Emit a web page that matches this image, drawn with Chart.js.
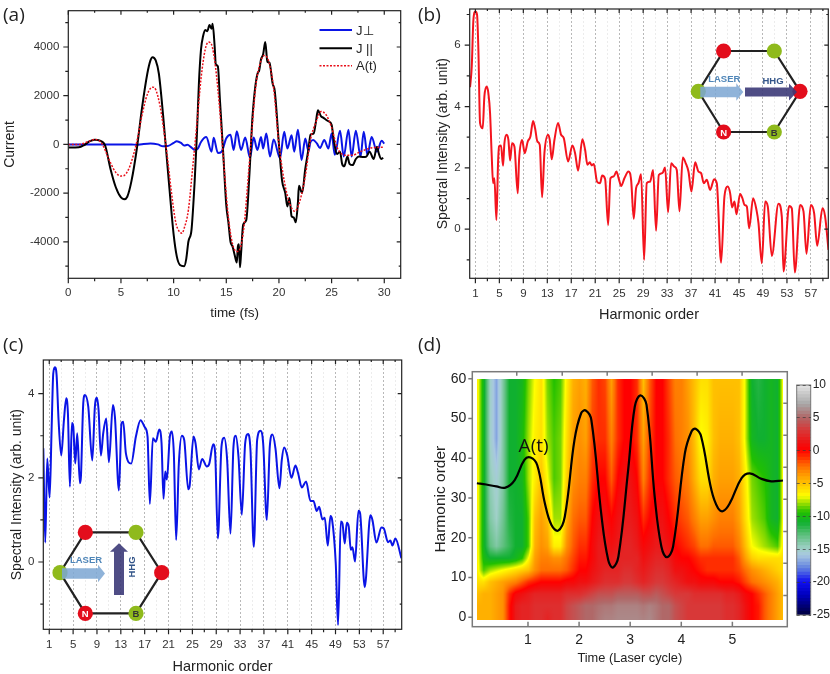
<!DOCTYPE html>
<html lang="en">
<head>
<meta charset="UTF-8">
<title>HHG current and spectra</title>
<script src="https://cdn.jsdelivr.net/npm/chart.js@4"></script>
<style>
  body { margin: 0; background: #fff; }
  #page { position: relative; width: 830px; height: 674px; overflow: hidden; }
  canvas { position: absolute; }
  .tag { position: absolute; font: 19px 'Open Sans', sans-serif; color: #222; }
  svg { position: absolute; left: 0; top: 0; }
</style>
</head>
<body>
<div id="page">
  <canvas id="chartA" style="left:0;top:0" width="415" height="320"></canvas>
  <canvas id="chartB" style="left:415px;top:0" width="415" height="325"></canvas>
  <canvas id="chartC" style="left:0;top:330px" width="415" height="344"></canvas>
  <canvas id="chartD" style="left:415px;top:330px" width="375" height="344"></canvas>
  <canvas id="chartBar" style="left:790px;top:375px" width="40" height="250"></canvas>
  <div class="tag" style="left:3px;top:1px">(a)</div>
  <div class="tag" style="left:418px;top:1px">(b)</div>
  <div class="tag" style="left:3px;top:331px">(c)</div>
  <div class="tag" style="left:418px;top:331px">(d)</div>
  <svg width="830" height="674" font-family="Liberation Sans, sans-serif" font-weight="bold">
    <defs>
      <g id="hexagon">
        <path d="M25.3 -40.3 H76 L101.7 0 L76 40.7 H25.3 L0 0 Z" fill="none" stroke="#222" stroke-width="2.2"/>
        <circle cx="25.3" cy="-40.3" r="7.6" fill="#e30d1c"/>
        <circle cx="76" cy="-40.3" r="7.6" fill="#8fba1c"/>
        <circle cx="101.7" cy="0" r="7.6" fill="#e30d1c"/>
        <circle cx="76" cy="40.7" r="7.6" fill="#8fba1c"/>
        <circle cx="25.3" cy="40.7" r="7.6" fill="#e30d1c"/>
        <circle cx="0" cy="0" r="7.6" fill="#8fba1c"/>
        <text x="25.3" y="44.3" font-size="9.5" fill="#fff" text-anchor="middle">N</text>
        <text x="76" y="44.3" font-size="9.5" fill="#333" text-anchor="middle">B</text>
        <path d="M2 -4.5 H38 V-8 L45 0.8 L38 9.5 V6 H2 Z" fill="#7ba6d2" fill-opacity="0.85"/>
        <text x="26" y="-9.5" font-size="9.5" fill="#4f86b8" text-anchor="middle">LASER</text>
      </g>
    </defs>
    <use href="#hexagon" x="698.3" y="91.3"/>
    <path d="M745 87.5 H789 V83.5 L797 92 L789 100.5 V96.5 H745 Z" fill="#3c3a78" fill-opacity="0.9"/>
    <text x="773" y="84" font-size="9.5" fill="#34568a" text-anchor="middle">HHG</text>
    <use href="#hexagon" x="60" y="572.7"/>
    <path d="M114 595 V551.7 H110 L119 543.3 L128 551.7 H124 V595 Z" fill="#3c3a78" fill-opacity="0.9"/>
    <text transform="translate(134.5 567) rotate(-90)" font-size="9.5" fill="#34568a" text-anchor="middle">HHG</text>
  </svg>
</div>
<script>
// (a) currents
const parTime = [0,1,1.5,2,2.5,3,3.5,4,4.5,5,5.3,5.6,6,6.5,7,7.5,7.8,8,8.3,8.6,9,9.3,9.6,10,10.3,10.6,11,11.2,11.4,11.7,12,12.2,12.4,12.6,12.8,13,13.2,13.4,13.6,13.7,13.9,14,14.2,14.4,14.7,15,15.2,15.4,15.6,15.8,16,16.1,16.2,16.3,16.4,16.6,16.9,17.2,17.5,18,18.1,18.3,18.5,18.7,18.9,19.1,19.4,19.6,20,20.3,20.6,20.8,21,21.2,21.4,21.6,21.8,21.9,22.2,22.5,22.8,23,23.3,23.5,23.7,24,24.2,24.5,24.7,25,25.2,25.5,25.8,26,26.2,26.5,26.7,27,27.3,27.6,28,28.3,28.6,29,29.3,29.5,29.7,29.9];
const parValue = [-130,-120,-30,120,190,150,-50,-1000,-1750,-2180,-2250,-2150,-1500,-200,1500,2900,3450,3580,3450,2900,1200,-300,-1800,-3700,-4600,-4950,-5000,-4700,-4000,-3500,-1500,300,2500,3900,4450,4700,4650,4900,4750,4950,4000,3300,3200,1800,-300,-2500,-3200,-4000,-4200,-4550,-4850,-4200,-4100,-5050,-4500,-3300,-3100,-1200,1200,2950,3000,3500,3700,4200,3400,3350,2500,2200,0,-1500,-2000,-2550,-2200,-2950,-3000,-3200,-2400,-1700,-2000,-1000,-200,400,450,900,1400,1150,1100,1000,950,800,200,-400,-300,-800,-900,-500,-800,-850,-600,-500,-520,-500,-300,-600,-100,-400,-600,-550];
const fieldTime = [0,1,1.5,2,2.5,3,3.3,3.7,4,4.5,5,5.3,5.7,6,6.5,7,7.5,8,8.3,8.7,9,9.4,9.8,10.2,10.5,10.8,11,11.4,11.8,12.2,12.6,13,13.3,13.6,14,14.4,14.8,15.2,15.6,16,16.3,16.7,17,17.4,17.8,18.2,18.6,19,19.5,20,20.5,21,21.5,22,22.5,23,23.5,24,24.5,25,25.5,26,26.5,27,27.5,28,29,30];
const fieldValue = [0,0,50,130,200,130,-50,-450,-750,-1150,-1300,-1280,-1050,-700,100,1200,2050,2350,2250,1600,800,-500,-2000,-3200,-3550,-3650,-3450,-2700,-1000,800,2700,3900,4200,4100,3100,1300,-1000,-3000,-4100,-4400,-4300,-3300,-1800,400,2400,3300,3650,3450,2300,0,-1500,-2400,-2750,-2300,-1300,200,900,1350,1200,700,-100,-400,-450,-450,-350,-250,-130,-120];
const perpTime = [0,6,6.5,7,7.8,8.5,9,9.5,10,10.3,10.7,11,11.3,11.7,12,12.3,12.6,13.1,13.6,13.8,14.2,14.55,15,15.4,15.7,16,16.4,16.8,17.25,17.6,17.95,18.3,18.5,18.8,19.15,19.5,20.1,20.5,20.8,21.2,21.45,21.8,22.15,22.5,22.8,23,23.25,23.6,23.9,24.3,24.7,25,25.3,25.8,26.15,26.6,26.9,27.3,27.75,28.05,28.4,28.8,29.3,29.75,30];
const perpValue = [0,0,-20,10,40,0,-80,-60,60,130,60,-50,-20,-130,-220,-170,100,300,-300,270,-350,-300,250,400,-230,540,-230,280,-550,280,-230,300,-170,450,-500,200,-570,520,-170,380,-300,600,-640,240,-270,100,180,40,-150,180,-170,450,-430,560,-500,600,-500,560,-500,520,-430,300,-300,150,30];

const timeTicks = [0,5,10,15,20,25,30];
const timeMinor = [2.5,7.5,12.5,17.5,22.5,27.5];
const currentTicks = [-4000,-2000,0,2000,4000];
const currentMinor = [-5000,-3000,-1000,1000,3000,5000];

// (b) spectrum, laser along the armchair direction
const specBOrder = [0.11,0.39,0.67,1,1.28,1.5,1.78,2.22,2.5,2.89,3.17,3.45,3.73,3.95,4.17,4.51,4.78,4.95,5.28,5.62,5.84,6.23,6.51,6.79,7.12,7.51,8.07,8.29,8.79,9.24,9.74,10.18,10.63,10.96,11.35,11.74,12.13,12.52,13.13,13.41,13.74,14.19,14.8,15.3,15.75,16.47,17.19,17.64,18.14,18.86,19.31,19.7,20.09,20.42,20.76,21.31,21.81,22.15,22.65,23.15,23.54,24.09,24.54,24.98,25.32,25.87,26.54,26.99,27.43,27.82,28.21,28.66,29.16,29.6,30.16,30.66,31.16,31.61,32.22,32.66,33.16,33.67,34.22,34.61,35.06,35.61,36.11,36.56,37.06,37.67,38.23,38.67,39.12,39.62,40.18,40.84,41.29,42.01,42.57,43.13,43.52,43.85,44.24,44.57,45.18,45.57,45.91,46.3,46.69,47.35,47.91,48.25,48.8,49.36,49.8,50.47,51.58,52.14,52.42,53.36,53.81,54.31,55.2,55.76,56.26,56.98,57.54,58.04,58.93,59.37,59.93];
const specBValue = [4.63,5.3,6.83,7.1,6.99,5.85,3.46,3.29,4.33,4.65,4.43,3.78,2.37,1.5,1.66,0.3,2.15,2.7,2.73,2.07,2.8,3.08,2.91,2.24,2.8,2.7,1.17,2.26,2.91,2.48,2.86,3.02,3.53,3.29,2.86,2.75,1.04,2.48,3.08,2.91,2.28,2.91,3.46,3.08,2.97,2.21,2.73,2.48,1.91,2.93,2.59,2.1,2.18,2.08,2.13,1.55,1.5,1.75,1.64,0.14,1.66,1.72,1.88,1.61,1.41,1.66,1.88,1.61,0.34,1.34,1.5,1.79,-1,1.5,1.55,1.93,-0.05,1.77,1.83,2.01,0.55,2.15,2.04,1.93,0.58,2.34,2.15,1.88,1.23,2.18,1.88,1.83,1.5,1.61,1.28,1.63,1.5,-1.09,1.07,1.39,1.17,0.71,0.9,0.49,1.15,1.01,0.79,0.74,0.03,1.01,0.63,0.2,-1.11,0.9,0.74,-0.87,0.83,0.41,-1.38,0.76,0.68,-1.41,0.79,0.58,-0.8,0.79,0.52,-0.54,0.68,0.41,-0.67];

// (c) spectrum, laser along the zigzag direction
const specCOrder = [0,0.33,0.66,1.06,1.39,1.67,1.95,2.23,2.56,3.01,3.46,3.85,4.13,4.46,4.8,5.02,5.36,5.69,6.14,6.31,6.7,6.98,7.54,8.21,8.65,8.99,9.27,9.66,10.05,10.55,11,11.67,12.01,12.68,13.12,13.4,13.85,14.74,15.53,16.31,17.03,17.48,17.87,18.37,18.88,19.44,19.83,20.16,20.44,20.72,21.22,21.56,21.89,22.28,22.73,23.23,23.63,24.3,24.52,25.19,25.53,26.08,26.64,27.42,27.82,28.49,28.82,29.27,29.88,30.33,30.83,31.39,31.89,32.28,32.73,33.29,33.85,34.35,34.74,35.3,35.86,36.42,36.87,37.48,37.98,38.43,38.93,39.6,39.99,40.39,40.89,41.61,42.28,42.73,43.35,44.07,44.8,45.3,45.86,46.25,46.81,47.2,47.7,48.15,48.43,49.04,49.43,49.88,50.16,50.55,50.89,51.22,51.56,51.84,52.28,52.84,53.12,53.9,54.85,55.19,55.86,56.7,57.09,57.81,58.2,58.54,59.04,60.05];
const specCValue = [2.7,0.46,2.46,1.53,3.14,4.48,4.63,4.44,3.37,2.53,3.37,3.89,3.53,1.79,3.3,3.22,2.34,3.06,1.87,2.03,3.77,3.97,3.69,2.41,3.69,3.9,3.61,2.53,3.06,3.41,2.37,3.73,3.45,1.7,3.3,3.33,2.58,2.34,2.98,3.37,3.2,2.98,1.38,2.94,2.86,3.15,2.82,1.5,2.15,1.96,2.98,3.1,2.58,0.52,2.34,3,2.9,1.73,1.79,2.98,2.82,2.2,2.45,2.27,2.33,2.8,2.58,0.56,2.74,2.95,2.42,0.67,2.74,3,2.5,1.12,2.82,3.04,2.66,0.36,2.9,3.12,2.82,1,2.74,3.03,2.7,1.75,2.42,2.72,2.54,2,2.29,2.11,1.77,1.91,1.45,1.45,1.21,1.31,1.01,1.05,0.39,1.09,1,-0.03,-1.5,0.96,0.92,0.44,0.93,0.84,0.29,0.35,0.01,1.22,1.16,-0.6,1.11,1,0.46,0.82,0.8,0.47,0.51,0.39,0.56,0.09];

const oddOrders = [1,3,5,7,9,11,13,15,17,19,21,23,25,27,29,31,33,35,37,39,41,43,45,47,49,51,53,55,57,59];
const labelledOrders = [1,5,9,13,17,21,25,29,33,37,41,45,49,53,57];
const minorOrders = [3,7,11,15,19,23,27,31,35,39,43,47,51,55,59];
const specBTicks = [0,2,4,6];
const specBMinor = [-1,1,3,5,7];
const specCTicks = [0,2,4];
const specCMinor = [-1,1,3];

// (d) time-frequency map: rows are harmonic orders, columns are times
const mapTimes = [0,0.125,0.25,0.375,0.5,0.625,0.75,0.875,1,1.125,1.25,1.375,1.5,1.625,1.75,1.875,2,2.125,2.25,2.375,2.5,2.625,2.75,2.875,3,3.125,3.25,3.375,3.5,3.625,3.75,3.875,4,4.125,4.25,4.375,4.5,4.625,4.75,4.875,5,5.125,5.25,5.375,5.5,5.625,5.75,5.875,6];
const mapOrders = [0,3,6,9,12,15,18,25,35,45,60];
const mapRows = [
  [-4.5,-4.5,-4.5,-4,-3.5,-0.5,1.5,2,2,2.5,2.5,2,2.5,2.5,3.5,4,4.5,5,5,5.5,5.8,5.8,6,6,6,6,5.8,6,5.5,5,5,4,3.5,3,3,3,3,3,3,2.5,2.5,2,1,0,-0.5,-2,-3,-4,-5],
  [-4.5,-4.5,-4.5,-4,-3.5,-0.5,1.5,2,2,2.5,2.5,2.5,2.5,2.5,3.5,4,4.5,5,5,5.3,5.5,5.5,5.8,5.8,5.8,5.8,5.5,5.8,5.5,5,5,4,3.5,3,3,3,3,3,3,2.5,2.5,2,1,0,-0.5,-2,-3,-4,-5],
  [-5,-4.5,-4.5,-4,-3.5,-1,0.5,1,1.5,2,2,2,2,2,2.5,2.5,2.5,3,3.5,4,4,4,4.5,4.5,4.5,4.5,4,4,4.5,4,3.5,3,3,3,2.5,2.5,2.5,2.5,2.5,2,2,1.5,0.5,0,-1,-2,-3,-4,-5],
  [-6,-6,-5,-4.5,-4,-3.5,-3,-2,-1,-0.5,0,0,0,0,0.5,0.5,1,1,1.5,2,2.5,2.5,2.5,3,3,2.5,2,2.5,3,3,2.5,2,1.5,1,1,0.5,0.5,0.5,0,0,0,-0.5,-1.5,-2.5,-3,-3.5,-4,-4.5,-5.5],
  [-6.5,-9,-8,-7.5,-7,-6.5,-6,-5.5,-5,-3.5,-2.5,-2.5,-2.5,-2.5,-2,-1,0,0,1,1.5,2,2,2,2.5,2.5,2,1.5,2,2.5,2.5,2,1,1,0.5,0,-0.5,-1,-1,-1,-1,-1,-1.5,-2.5,-3.5,-4,-4.5,-5,-5.5,-6],
  [-6.5,-10,-11,-11,-11,-11,-10.5,-9.5,-7,-4,-3,-3,-3.5,-3.5,-2.5,-1.5,-0.5,-0.5,0.5,1.5,1.5,1.5,2,2,2,2,1,1.5,2,2,1.5,0.5,0,0,-0.5,-1,-1,-1,-1,-1,-1,-2,-4,-5.5,-6,-6,-6,-6,-6],
  [-6.5,-10.5,-13,-14,-13,-12,-11,-11,-9,-4.5,-3.5,-4,-6.5,-6.5,-3.5,-2,-1,-1,0.5,1.5,1.5,1,1.5,2,2,1.5,0.5,1,1.5,1.5,1,0,-0.5,-1,-1.5,-2.5,-2.5,-2,-2,-2,-2,-3,-5,-7,-7.5,-8,-8.5,-9,-6],
  [-6.5,-10.5,-14,-15,-13.5,-11.5,-11,-11,-9,-5,-4,-5,-8,-8,-4.5,-2.5,-2,-2,0,1,1,0,1,1.5,1.5,1,-1,0,1,1,0,-1,-1.5,-2,-3,-4,-4,-3.5,-3,-3,-3,-4,-6,-8,-8.5,-9,-10.5,-11,-6],
  [-6.5,-10.5,-14.5,-15.5,-14,-11,-11,-10.5,-8,-6.5,-5,-7,-9,-8.5,-5.5,-3.5,-3,-3,-1,0,0,-2,0,1,1,0,-3,-1,0,0,-1,-2,-2.5,-3,-4.5,-6,-6,-4.5,-4,-4,-4,-4.5,-6.5,-8.5,-9,-9.5,-10.5,-11,-6],
  [-6.5,-10.5,-15,-17,-14,-11,-11,-10,-8,-6.5,-6,-8,-9,-8.5,-6,-4,-3.5,-4,-1.5,-1,-1,-3,-1,0,0,-1,-4,-1.5,0,0,-1,-2.5,-3,-3.5,-5,-7,-6.5,-5,-4.5,-4.5,-4.5,-5,-7.5,-10.5,-11,-11,-10.5,-11,-6],
  [-6.5,-10.5,-15,-17,-14,-11,-11,-10.5,-8.5,-7,-6,-8.5,-9.5,-9,-6.5,-4.5,-4,-4.5,-2,-1,-1.5,-4,-1,0,0,-1,-5,-2,0,0,-1.5,-3,-3,-4,-5,-6,-6,-5,-5,-5,-5,-5,-7.5,-11,-11.5,-11,-10.5,-11,-6]
];
const pulseTime = [0,0.18,0.38,0.56,0.74,0.93,1.05,1.18,1.33,1.46,1.59,1.72,1.91,2.04,2.13,2.24,2.44,2.57,2.66,2.77,2.96,3.09,3.2,3.32,3.48,3.61,3.72,3.84,4.07,4.2,4.28,4.39,4.59,4.72,4.82,4.95,5.18,5.34,5.57,5.76,5.99];
const pulseOrder = [33.7,33.4,32.9,32.6,34.5,39.6,40.2,38.3,28.7,23.2,21.8,25.3,44.6,51.3,52,49.6,25.3,14.4,12.5,15.3,37,53,55.8,53.4,30.3,17.8,15.1,17.8,41.2,46.7,47.4,45.4,32,27.4,26.7,28.7,35,36.2,34.8,34.2,34.4];
const mapXTicks = [1,2,3,4,5];
const mapYTicks = [0,10,20,30,40,50,60];
const mapTopTicks = [0.78,1.67,2.55,3.43,4.31,5.19];
const mapRightTicks = [5.5,13.6,21.6,29.7,37.7,45.8,53.8];

// colour bar
const colorValues = [-25,-22,-20,-18,-16,-15,-13,-11,-9.5,-8,-7,-5,-2.5,0,1,3,5,7,10];
const colorHexes = ['#000040','#0000c0','#1010f0','#6080e0','#a8c8e0','#a0d0c8','#60c080','#10b030','#20c000','#a0e000','#ffff00','#ffc000','#ff7000','#ff0000','#f01010','#d83838','#b06868','#a8a8a8','#e6e6e6'];
const barLevels = [-25,-24.5,-24,-23.5,-23,-22.5,-22,-21.5,-21,-20.5,-20,-19.5,-19,-18.5,-18,-17.5,-17,-16.5,-16,-15.5,-15,-14.5,-14,-13.5,-13,-12.5,-12,-11.5,-11,-10.5,-10,-9.5,-9,-8.5,-8,-7.5,-7,-6.5,-6,-5.5,-5,-4.5,-4,-3.5,-3,-2.5,-2,-1.5,-1,-0.5,0,0.5,1,1.5,2,2.5,3,3.5,4,4.5,5,5.5,6,6.5,7,7.5,8,8.5,9,9.5];
const barTicks = [-25,-20,-15,-10,-5,0,5,10];

const FONT = "'Liberation Sans', Arial, sans-serif";
const INK = '#222';

const pairs = (xs, ys) => xs.map((x, i) => ({x, y: ys[i]}));

function colorFor(v) {
  let i = 1;
  while (i < colorValues.length - 1 && v > colorValues[i]) i++;
  const f = Math.max(0, Math.min(1, (v - colorValues[i-1]) / (colorValues[i] - colorValues[i-1])));
  const a = parseInt(colorHexes[i-1].slice(1), 16), b = parseInt(colorHexes[i].slice(1), 16);
  return [16, 8, 0].map(s => Math.round((a >> s & 255) * (1 - f) + (b >> s & 255) * f));
}

// position of v inside a sorted list, as index + fraction
function locate(list, v) {
  let i = 0;
  while (i < list.length - 2 && v > list[i+1]) i++;
  return [i, Math.max(0, Math.min(1, (v - list[i]) / (list[i+1] - list[i])))];
}

// paints mapRows behind the line, pixel by pixel through the chart's scales
const heatPlugin = {
  id: 'heat',
  beforeDatasetsDraw(chart) {
    const {ctx, scales: {x, y}} = chart;
    const x0 = Math.round(x.getPixelForValue(0)), x1 = Math.round(x.getPixelForValue(6));
    const y0 = Math.round(y.getPixelForValue(60)), y1 = Math.round(y.getPixelForValue(-0.7));
    const w = x1 - x0, h = y1 - y0;
    const img = ctx.createImageData(w, h);
    for (let py = 0; py < h; py++) {
      const [r, fr] = locate(mapOrders, y.getValueForPixel(y0 + py));
      for (let px = 0; px < w; px++) {
        const [c, fc] = locate(mapTimes, x.getValueForPixel(x0 + px));
        const low = mapRows[r][c] * (1 - fc) + mapRows[r][c+1] * fc;
        const high = mapRows[r+1][c] * (1 - fc) + mapRows[r+1][c+1] * fc;
        const rgb = colorFor(low * (1 - fr) + high * fr);
        img.data.set([rgb[0], rgb[1], rgb[2], 255], (py * w + px) * 4);
      }
    }
    ctx.putImageData(img, x0, y0);
  }
};

// plot box and tick marks; len > 0 goes outward, len < 0 inward
const framePlugin = {
  id: 'frame',
  afterDatasetsDraw(chart, args, opts) {
    const {ctx, chartArea: a, scales: {x, y}} = chart;
    ctx.save();
    ctx.strokeStyle = opts.color;
    ctx.lineWidth = opts.width;
    ctx.strokeRect(a.left, a.top, a.right - a.left, a.bottom - a.top);
    ctx.beginPath();
    (opts.marks || []).forEach(({side, at, len}) => at.forEach(v => {
      if (side === 'bottom') { const p = x.getPixelForValue(v); ctx.moveTo(p, a.bottom); ctx.lineTo(p, a.bottom + len); }
      if (side === 'top') { const p = x.getPixelForValue(v); ctx.moveTo(p, a.top); ctx.lineTo(p, a.top - len); }
      if (side === 'left') { const p = y.getPixelForValue(v); ctx.moveTo(a.left, p); ctx.lineTo(a.left - len, p); }
      if (side === 'right') { const p = y.getPixelForValue(v); ctx.moveTo(a.right, p); ctx.lineTo(a.right + len, p); }
    }));
    ctx.stroke();
    ctx.restore();
  }
};

// legend of panel a, drawn from the datasets
const legendPlugin = {
  id: 'lineLegend',
  afterDraw(chart) {
    const {ctx} = chart;
    const rows = [30, 48.3, 65.7];
    ctx.save();
    chart.data.datasets.forEach((ds, i) => {
      ctx.beginPath();
      ctx.strokeStyle = ds.borderColor;
      ctx.lineWidth = ds.borderWidth;
      ctx.setLineDash(ds.borderDash || []);
      ctx.moveTo(319.5, rows[i]);
      ctx.lineTo(352, rows[i]);
      ctx.stroke();
      ctx.setLineDash([]);
      ctx.fillStyle = INK;
      ctx.font = '13px ' + FONT;
      ctx.textBaseline = 'middle';
      ctx.fillText(ds.label, 356, rows[i] + 1);
    });
    ctx.restore();
  }
};

const pulseLabelPlugin = {
  id: 'pulseLabel',
  afterDatasetsDraw(chart) {
    const {ctx, scales: {x, y}} = chart;
    ctx.save();
    ctx.font = "19px 'Open Sans', sans-serif";
    ctx.fillStyle = '#111';
    ctx.textAlign = 'center';
    ctx.textBaseline = 'middle';
    ctx.fillText('A(t)', x.getPixelForValue(1.11), y.getPixelForValue(43));
    ctx.restore();
  }
};

// fixes the plot box to given canvas pixels; the scales' label margins are cleared
function boxOptions(l, t, r, b, w, h) {
  return {
    padding: {left: 0, top: t, right: w - r, bottom: 0},
    xFit: s => { s.height = h - b; s.paddingLeft = 0; s.paddingRight = 0; },
    yFit: s => { s.width = l; s.paddingTop = 0; s.paddingBottom = 0; }
  };
}

function axis(ticksList, opts) {
  return Object.assign({
    type: 'linear',
    afterBuildTicks: s => { s.ticks = ticksList.map(value => ({value})); },
    grid: {display: false, drawTicks: false},
    border: {display: false}
  }, opts);
}

function tickFont(size) {
  return {size, family: FONT};
}

function title(text, size, padding) {
  return {display: true, text, color: INK, font: {size, family: FONT}, padding};
}

function boxMarks(xMajor, xMinor, yMajor, yMinor) {
  return [
    {side: 'bottom', at: xMajor, len: 5}, {side: 'bottom', at: xMinor, len: 3},
    {side: 'top', at: xMajor, len: -4}, {side: 'top', at: xMinor, len: -2},
    {side: 'left', at: yMajor, len: 5}, {side: 'left', at: yMinor, len: 3},
    {side: 'right', at: yMajor, len: -4}, {side: 'right', at: yMinor, len: -2}
  ];
}

const baseOptions = {responsive: false, animation: false, devicePixelRatio: 1, events: []};
const plainNumber = v => String(v);

// (a)
const boxA = boxOptions(68.3, 10.7, 400.7, 278.3, 415, 320);
new Chart('chartA', {
  type: 'scatter',
  data: {datasets: [
    {label: 'J⊥', data: pairs(perpTime, perpValue), borderColor: '#0a14e6', borderWidth: 2, order: 3},
    {label: 'J ||', data: pairs(parTime, parValue), borderColor: '#000', borderWidth: 2, order: 2},
    {label: 'A(t)', data: pairs(fieldTime, fieldValue), borderColor: '#e8101a', borderWidth: 1.5, borderDash: [2, 1.5], order: 1}
  ].map(d => Object.assign(d, {showLine: true, pointRadius: 0, cubicInterpolationMode: 'monotone'}))},
  options: {
    ...baseOptions,
    layout: {padding: boxA.padding},
    plugins: {legend: {display: false}, tooltip: {enabled: false},
      frame: {color: INK, width: 1.2, marks: boxMarks(timeTicks, timeMinor, currentTicks, currentMinor)}},
    scales: {
      x: axis(timeTicks, {min: 0, max: 31.56, afterFit: boxA.xFit,
        ticks: {color: '#333', font: tickFont(11.5), padding: 8, maxRotation: 0, autoSkip: false, callback: plainNumber},
        title: title('time (fs)', 13.5, {top: 0, bottom: -1.8})}),
      y: axis(currentTicks, {min: -5500, max: 5490, afterFit: boxA.yFit,
        ticks: {color: '#333', font: tickFont(11.5), padding: 9, callback: plainNumber},
        title: title('Current', 14, {top: 2, bottom: 0})})
    }
  },
  plugins: [framePlugin, legendPlugin]
});

function spectrumOptions(box, xRange, yRange, yTicks, yMinor, tickPad, yTitlePad, xTitlePad) {
  return {
    ...baseOptions,
    layout: {padding: box.padding},
    plugins: {legend: {display: false}, tooltip: {enabled: false},
      frame: {color: INK, width: 1.2, marks: boxMarks(labelledOrders, minorOrders, yTicks, yMinor)}},
    scales: {
      x: axis(oddOrders, {min: xRange[0], max: xRange[1], afterFit: box.xFit,
        grid: {display: true, drawTicks: false,
          color: c => labelledOrders.includes(c.tick.value) ? '#b8b8b8' : '#ececec'},
        border: {display: false, dash: [2, 2]},
        ticks: {color: '#333', font: tickFont(11.5), padding: 8.5, maxRotation: 0, autoSkip: false,
          callback: v => labelledOrders.includes(v) ? v : ''},
        title: title('Harmonic order', 14.5, xTitlePad)}),
      y: axis(yTicks, {min: yRange[0], max: yRange[1], afterFit: box.yFit,
        ticks: {color: '#333', font: tickFont(11.5), padding: tickPad},
        title: title('Spectral Intensity (arb. unit)', 14, yTitlePad)})
    }
  };
}

// (b)
new Chart('chartB', {
  type: 'scatter',
  data: {datasets: [{data: pairs(specBOrder, specBValue), showLine: true, pointRadius: 0,
    borderColor: '#f4141e', borderWidth: 2, cubicInterpolationMode: 'monotone'}]},
  options: spectrumOptions(boxOptions(54.7, 9, 413.3, 278.3, 415, 325), [0.05, 59.9], [-1.6, 7.18],
    specBTicks, specBMinor, 9, {top: 20, bottom: 0}, {top: 0, bottom: 1}),
  plugins: [framePlugin]
});

// (c)
new Chart('chartC', {
  type: 'scatter',
  data: {datasets: [{data: pairs(specCOrder, specCValue), showLine: true, pointRadius: 0,
    borderColor: '#0a14e6', borderWidth: 2, cubicInterpolationMode: 'monotone'}]},
  options: spectrumOptions(boxOptions(43.3, 30, 401.7, 299.3, 415, 344), [0, 60.1], [-1.6, 4.8],
    specCTicks, specCMinor, 9, {top: 9, bottom: 0}, {top: 0, bottom: -2}),
  plugins: [framePlugin]
});

// (d)
const boxD = boxOptions(57.3, 41.7, 372.3, 296.7, 375, 344);
new Chart('chartD', {
  type: 'scatter',
  data: {datasets: [{data: pairs(pulseTime, pulseOrder), showLine: true, pointRadius: 0,
    borderColor: '#000', borderWidth: 2.2, tension: 0.4}]},
  options: {
    ...baseOptions,
    layout: {padding: boxD.padding},
    plugins: {legend: {display: false}, tooltip: {enabled: false},
      frame: {color: '#7a7a7a', width: 1.5, marks: [
        {side: 'bottom', at: mapXTicks, len: -5},
        {side: 'top', at: mapTopTicks, len: -4},
        {side: 'left', at: mapYTicks, len: 4},
        {side: 'right', at: mapRightTicks, len: -4}
      ]}},
    scales: {
      x: axis(mapXTicks, {min: -0.09, max: 6.075, afterFit: boxD.xFit,
        ticks: {color: '#222', font: tickFont(14), padding: 5, maxRotation: 0, autoSkip: false},
        title: title('Time (Laser cycle)', 12.8, {top: 0, bottom: 8})}),
      y: axis(mapYTicks, {min: -2.36, max: 61.75, afterFit: boxD.yFit,
        ticks: {color: '#222', font: tickFont(14), padding: 6},
        title: title('Harmonic order', 15.5, {top: 16, bottom: 0})})
    }
  },
  plugins: [heatPlugin, framePlugin, pulseLabelPlugin]
});

// colour bar, one floating bar per level
new Chart('chartBar', {
  type: 'bar',
  data: {labels: [''], datasets: barLevels.map(v => ({
    data: [[v, v + 0.55]], backgroundColor: `rgb(${colorFor(v + 0.25).join(',')})`,
    barPercentage: 1, categoryPercentage: 1, grouped: false
  }))},
  options: {
    ...baseOptions,
    layout: {padding: {left: 6.7, top: 10, right: 0, bottom: 10}},
    plugins: {legend: {display: false}, tooltip: {enabled: false},
      frame: {color: '#777', width: 1, marks: []}},
    scales: {
      x: {display: false},
      y: axis(barTicks, {min: -25, max: 10, position: 'right',
        afterFit: s => { s.width = 19.3; s.paddingTop = 0; s.paddingBottom = 0; },
        grid: {display: true, drawTicks: false, z: 1, color: 'rgba(60,60,60,.7)'},
        border: {display: false, dash: [3, 3]},
        ticks: {color: '#222', font: tickFont(12), padding: 2}})
    }
  },
  plugins: [framePlugin]
});
</script>
</body>
</html>
